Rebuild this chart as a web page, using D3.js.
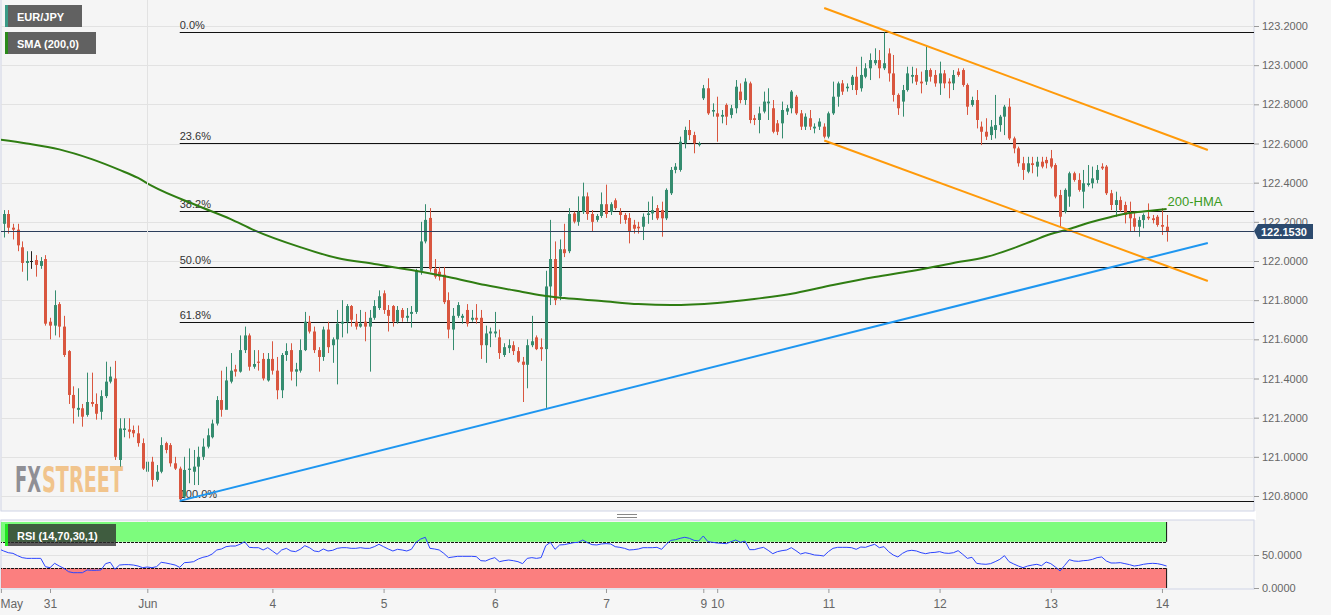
<!DOCTYPE html>
<html>
<head>
<meta charset="utf-8">
<script src="https://cdn.jsdelivr.net/npm/d3@7"></script>
<style>
  body { margin: 0; background: #f6f6f6; overflow: hidden; }
  svg { display: block; font-family: "Liberation Sans", Arial, sans-serif; }
  .axis text { fill: #666; }
  .axis line { stroke: #9a9a9a; }
</style>
</head>
<body>
<svg width="1331" height="615"></svg>
<script>
var svg = d3.select('svg');
var width = +svg.attr('width'), height = +svg.attr('height');

//Hourly EUR/JPY candles, May 30 13:00 to June 14 01:00 (one entry per bar).
var opens = [
  122.11,122.19,122.24,122.17,122.16,122.07,121.99,122.00,122.005,121.975,
  122.01,121.69,121.67,121.78,121.665,121.54,121.316,121.24,121.248,121.214,
  121.28,121.27,121.23,121.31,121.384,121.40,120.984,121.137,121.14,121.137,
  121.12,121.07,120.924,120.975,120.882,120.924,121.07,121.06,120.967,120.94,
  120.797,120.933,120.924,120.95,121.00,121.052,121.10,121.17,121.29,121.24,
  121.384,121.447,121.435,121.545,121.62,121.46,121.486,121.50,121.39,121.50,
  121.44,121.34,121.52,121.545,121.435,121.44,121.545,121.69,121.64,121.545,
  121.51,121.65,121.57,121.60,121.68,121.69,121.77,121.69,121.665,121.69,
  121.665,121.71,121.76,121.835,121.75,121.77,121.69,121.75,121.71,121.73,
  121.74,121.95,122.10,122.22,121.96,121.945,121.93,121.80,121.65,121.72,
  121.71,121.75,121.70,121.71,121.71,121.57,121.63,121.63,121.61,121.52,
  121.555,121.57,121.54,121.486,121.47,121.57,121.61,121.56,121.55,121.87,
  122.01,121.82,122.06,122.05,122.243,122.20,122.25,122.33,122.24,122.21,
  122.23,122.29,122.25,122.31,122.25,122.235,122.22,122.185,122.175,122.175,
  122.235,122.243,122.27,122.26,122.218,122.346,122.465,122.465,122.601,122.669,
  122.643,122.592,122.831,122.882,122.763,122.754,122.737,122.797,122.746,122.78,
  122.865,122.822,122.907,122.729,122.72,122.763,122.805,122.78,122.703,122.703,
  122.763,122.78,122.839,122.754,122.686,122.729,122.677,122.686,122.686,122.635,
  122.754,122.839,122.907,122.882,122.899,122.941,122.882,122.941,122.984,123.01,
  123.026,122.984,123.06,122.958,122.848,122.814,122.873,122.941,122.95,122.916,
  122.916,122.975,122.95,122.907,122.958,122.916,122.907,122.967,122.975,122.899,
  122.797,122.822,122.686,122.66,122.643,122.669,122.694,122.737,122.788,122.626,
  122.575,122.499,122.456,122.499,122.482,122.507,122.516,122.524,122.49,122.337,
  122.252,122.329,122.448,122.414,122.354,122.388,122.397,122.414,122.482,122.482,
  122.346,122.286,122.311,122.286,122.243,122.218,122.175,122.209,122.226,122.218,
  122.226,122.184,122.175];
var highs = [
  122.27,122.26,122.26,122.19,122.19,122.10,122.05,122.05,122.03,122.02,
  122.03,121.71,121.85,121.79,121.72,121.545,121.36,121.35,121.27,121.43,
  121.43,121.324,121.34,121.486,121.46,121.49,121.197,121.197,121.197,121.16,
  121.16,121.094,121.00,121.00,120.958,121.10,121.077,121.07,121.00,120.95,
  121.00,121.043,121.035,121.052,121.094,121.145,121.19,121.31,121.44,121.46,
  121.53,121.47,121.62,121.665,121.63,121.545,121.545,121.53,121.53,121.59,
  121.51,121.53,121.58,121.58,121.48,121.60,121.74,121.72,121.665,121.56,
  121.665,121.69,121.61,121.75,121.80,121.78,121.775,121.73,121.75,121.74,
  121.75,121.80,121.85,121.85,121.775,121.775,121.77,121.76,121.76,121.77,
  121.96,122.20,122.29,122.27,122.01,121.97,121.97,121.84,121.76,121.79,
  121.73,121.78,121.75,121.78,121.75,121.67,121.66,121.74,121.65,121.58,
  121.60,121.59,121.56,121.51,121.60,121.72,121.62,121.605,121.95,122.21,
  122.10,122.11,122.19,122.27,122.252,122.33,122.40,122.35,122.26,122.24,
  122.35,122.39,122.30,122.32,122.27,122.245,122.245,122.21,122.20,122.243,
  122.303,122.33,122.286,122.303,122.371,122.48,122.50,122.635,122.686,122.72,
  122.66,122.609,122.899,122.933,122.805,122.839,122.771,122.805,122.797,122.924,
  122.907,122.933,122.916,122.746,122.788,122.865,122.882,122.822,122.72,122.814,
  122.797,122.873,122.848,122.771,122.754,122.771,122.703,122.729,122.703,122.763,
  122.916,122.916,122.924,122.907,122.95,122.992,123.043,123.01,123.06,123.086,
  123.077,123.168,123.086,123.052,122.856,122.899,122.992,122.992,122.984,122.967,
  123.095,122.984,122.975,123.018,122.975,122.933,122.975,122.984,122.984,122.907,
  122.839,122.873,122.712,122.729,122.72,122.848,122.746,122.797,122.831,122.635,
  122.584,122.532,122.532,122.532,122.532,122.532,122.532,122.567,122.499,122.363,
  122.371,122.456,122.456,122.448,122.465,122.49,122.482,122.49,122.499,122.49,
  122.363,122.354,122.329,122.303,122.303,122.252,122.226,122.243,122.294,122.235,
  122.235,122.269,122.235];
var lows = [
  121.99,122.12,122.14,122.11,122.05,121.945,121.90,121.96,121.92,121.96,
  121.67,121.60,121.62,121.61,121.51,121.27,121.17,121.205,121.154,121.205,
  121.256,121.19,121.19,121.30,121.375,120.984,120.95,121.10,121.094,121.10,
  121.052,120.933,120.882,120.848,120.873,120.916,121.018,120.95,120.933,120.775,
  120.788,120.865,120.856,120.856,120.984,121.043,121.094,121.16,121.205,121.28,
  121.375,121.41,121.43,121.53,121.44,121.45,121.44,121.39,121.384,121.42,
  121.294,121.30,121.49,121.39,121.36,121.43,121.54,121.63,121.53,121.435,
  121.49,121.53,121.48,121.37,121.61,121.63,121.665,121.65,121.66,121.59,
  121.435,121.70,121.75,121.73,121.64,121.665,121.68,121.69,121.69,121.66,
  121.73,121.93,122.09,121.945,121.91,121.90,121.78,121.605,121.545,121.71,
  121.68,121.665,121.69,121.68,121.50,121.48,121.56,121.61,121.50,121.51,
  121.53,121.52,121.48,121.28,121.35,121.56,121.545,121.49,121.25,121.775,
  121.775,121.80,122.02,122.04,122.192,122.18,122.24,122.21,122.15,122.20,
  122.22,122.22,122.235,122.26,122.19,122.19,122.09,122.14,122.14,122.107,
  122.19,122.21,122.209,122.124,122.209,122.337,122.448,122.456,122.575,122.618,
  122.55,122.585,122.822,122.746,122.737,122.609,122.703,122.694,122.729,122.754,
  122.805,122.797,122.703,122.694,122.652,122.754,122.72,122.652,122.643,122.626,
  122.746,122.754,122.746,122.669,122.669,122.669,122.652,122.669,122.626,122.626,
  122.746,122.788,122.848,122.865,122.873,122.848,122.865,122.933,122.924,123.00,
  122.933,122.975,122.916,122.814,122.746,122.737,122.865,122.907,122.899,122.856,
  122.899,122.916,122.89,122.848,122.882,122.831,122.873,122.941,122.89,122.746,
  122.788,122.677,122.592,122.618,122.618,122.626,122.66,122.643,122.618,122.55,
  122.482,122.414,122.448,122.448,122.431,122.473,122.473,122.473,122.32,122.175,
  122.243,122.277,122.405,122.354,122.269,122.38,122.371,122.397,122.465,122.337,
  122.26,122.226,122.252,122.192,122.15,122.15,122.124,122.167,122.209,122.192,
  122.175,122.133,122.099];
var closes = [
  122.24,122.24,122.17,122.16,122.08,121.99,122.00,122.00,121.98,122.00,
  121.68,121.67,121.775,121.665,121.52,121.316,121.248,121.25,121.205,121.28,
  121.27,121.22,121.31,121.384,121.41,121.00,121.145,121.145,121.128,121.12,
  121.07,120.94,120.975,120.882,120.924,121.06,121.035,120.967,120.94,120.783,
  120.933,120.94,120.95,121.00,121.052,121.11,121.17,121.29,121.24,121.39,
  121.44,121.435,121.545,121.62,121.46,121.474,121.48,121.40,121.50,121.44,
  121.34,121.52,121.54,121.435,121.447,121.545,121.69,121.64,121.545,121.51,
  121.65,121.56,121.60,121.68,121.69,121.77,121.70,121.665,121.68,121.665,
  121.71,121.77,121.82,121.75,121.72,121.69,121.75,121.71,121.72,121.74,
  121.95,122.10,122.21,121.96,121.92,121.92,121.79,121.65,121.72,121.775,
  121.72,121.68,121.71,121.70,121.57,121.63,121.64,121.64,121.53,121.56,
  121.57,121.54,121.486,121.47,121.57,121.59,121.55,121.55,121.87,122.01,
  121.80,122.06,122.04,122.24,122.201,122.25,122.33,122.24,122.20,122.23,
  122.29,122.24,122.29,122.27,122.235,122.21,122.15,122.165,122.167,122.226,
  122.243,122.26,122.218,122.218,122.363,122.465,122.482,122.609,122.669,122.643,
  122.601,122.601,122.882,122.754,122.771,122.737,122.746,122.737,122.78,122.89,
  122.822,122.916,122.72,122.72,122.754,122.814,122.814,122.66,122.66,122.771,
  122.78,122.865,122.754,122.686,122.737,122.686,122.686,122.712,122.635,122.754,
  122.839,122.907,122.865,122.89,122.941,122.873,122.95,122.984,123.026,123.026,
  122.984,123.01,122.958,122.848,122.78,122.873,122.958,122.95,122.916,122.907,
  122.975,122.941,122.907,122.958,122.907,122.907,122.95,122.95,122.899,122.788,
  122.822,122.72,122.66,122.635,122.686,122.694,122.737,122.788,122.626,122.575,
  122.499,122.465,122.499,122.49,122.507,122.482,122.499,122.482,122.329,122.226,
  122.363,122.448,122.414,122.363,122.397,122.397,122.422,122.465,122.473,122.346,
  122.286,122.311,122.26,122.235,122.218,122.175,122.209,122.235,122.218,122.209,
  122.184,122.175,122.153];

//RSI (14) read per bar.
var rsi = [
  59.1,56.1,53.5,52.5,49,46,44.9,44.9,44.9,44.9,
  32.3,30.8,37.4,33.3,29.8,24.7,23.2,23.2,23.2,27.3,
  26.8,26.8,27.3,36.9,38.9,28.3,34.8,35.4,35.4,34.8,
  33.3,30.8,31.8,30.8,32.3,38.9,37.9,36.4,34.8,31.3,
  38.4,38.9,39.9,43.9,46.5,48,51.5,57.6,59.1,62.6,
  63.6,63.6,66.2,70.2,61.6,61.1,61.1,57.6,61.1,56.1,
  51,57.6,60.1,56.1,55.1,58.6,64.1,61.1,56.1,55.1,
  59.1,56.1,57.1,60.1,61.1,61.1,60.1,60.1,61.1,60.1,
  60.1,62.6,66.2,62.6,59.1,56.1,58.6,57.6,56.1,58.6,
  69.2,74.2,76.8,60.1,59.1,57.6,52.5,46,47,48,
  48,48,48,47.5,41.4,40.9,43.9,46,39.9,41.4,
  42.4,41.4,39.9,36.9,44.9,46,44.9,46,64.1,69.2,
  58.6,65.2,65.7,67.2,68.7,69.2,72.7,68.7,65.7,65.2,
  66.7,67.2,66.7,62.6,61.6,60.1,57.6,58.1,59.1,61.1,
  61.1,61.1,61.6,58.6,66.2,72.2,73.2,75.3,76.8,75.3,
  72.2,71.2,78.8,70.2,69.2,68.2,67.7,67.2,70.2,72.7,
  69.2,71.2,58.1,58.1,60.1,61.6,57.1,52,55.1,56.6,
  57.6,61.1,56.6,51.5,53.5,52,50,49.5,48.5,55.1,
  60.1,61.6,61.6,61.6,61.1,58.6,62.1,61.6,64.1,66.2,
  61.1,62.6,55.1,50,47,52.5,56.1,57.1,56.1,53.5,
  52,53.5,54,55.1,53,52.5,53.5,56.6,51,44.9,
  46.5,37.4,36.4,35.9,36.9,39.9,43.4,49,39.9,36.4,
  33.3,30.8,33.3,34.8,35.9,33.8,39.4,36.9,31.8,25.8,
  34.3,42.9,40.9,40.4,41.4,41.9,43.4,46,47,40.9,
  37.9,37.9,38.4,36.9,35.4,33.3,34.3,35.9,36.9,37.4,
  36.9,35.4,33.3];

//200-HMA, read at knots along the curve (bar index, price).
var hmaIdx = [0, 6, 13, 20, 26, 30, 33, 43, 50, 55, 65, 73, 81, 89, 97, 105, 113, 118, 122, 130,
  138, 145, 155, 163, 172, 180, 189, 197, 206, 213, 219, 223, 227, 231, 235, 240, 244, 248, 252];
var hmaVal = [122.62, 122.60, 122.57, 122.52, 122.465, 122.424, 122.383, 122.281, 122.214, 122.158,
  122.071, 122.015, 121.985, 121.954, 121.918, 121.877, 121.842, 121.821, 121.811, 121.796,
  121.780, 121.775, 121.786, 121.806, 121.837, 121.877, 121.918, 121.949, 121.990, 122.020,
  122.066, 122.102, 122.138, 122.163, 122.194, 122.225, 122.245, 122.255, 122.266];

//Trend lines as [bar index, price] end points.
var supportLine = [[39, 120.775], [260.9, 122.092]];
var channelTop = [[178.1, 123.292], [260.9, 122.567]];
var channelBottom = [[178.1, 122.615], [260.9, 121.898]];

var fibLevels = [0, 23.6, 38.2, 50, 61.8, 100];
var priceTicks = [120.8, 121.0, 121.2, 121.4, 121.6, 121.8, 122.0, 122.2, 122.4, 122.6, 122.8, 123.0, 123.2];
var rsiTicks = [0, 50];
var dayLabels = ['May', '31', 'Jun', '4', '5', '6', '7', '9', '10', '11', '12', '13', '14'];
var dayIdx = [0.4, 11, 32, 59, 83, 107, 131, 152, 155, 179, 203, 227, 251];
var lastPrice = closes[closes.length - 1];

//Layout.
var panelL = 1, panelR = 1254, mainT = 0, mainB = 511, rsiT = 520, rsiB = 589;
var green = '#358c6f', red = '#d9563f';

var xScale = d3.scaleLinear().domain([0, 252]).range([-0.96, 1166.6]);
var yScale = d3.scaleLinear().domain([120.8, 123.2]).range([496, 26]);
var rScale = d3.scaleLinear().domain([0, 100]).range([588, 522]);

var defs = svg.append('defs');
defs.append('clipPath').attr('id', 'clipMain').append('rect')
  .attr('x', panelL).attr('y', mainT).attr('width', panelR - panelL).attr('height', mainB - mainT);
defs.append('clipPath').attr('id', 'clipRsi').append('rect')
  .attr('x', panelL).attr('y', rsiT).attr('width', panelR - panelL).attr('height', rsiB - rsiT);

//Backgrounds and panels.
svg.append('rect').attr('width', width).attr('height', height).attr('fill', '#f6f6f6');
svg.append('rect').attr('x', 0).attr('y', mainB).attr('width', panelR + 2).attr('height', rsiT - mainB).attr('fill', '#fff');
svg.append('rect').attr('x', panelL).attr('y', mainT - 1).attr('width', panelR - panelL).attr('height', mainB - mainT + 1)
  .attr('fill', '#f5f5f5').attr('stroke', '#cfd4e6');
svg.append('rect').attr('x', panelL).attr('y', rsiT).attr('width', panelR - panelL).attr('height', rsiB - rsiT)
  .attr('fill', '#f5f5f5').attr('stroke', '#cfd4e6');

//Drag handle between panels.
[514.5, 517.5].forEach(function(yy) {
  svg.append('line').attr('x1', 617).attr('x2', 637).attr('y1', yy).attr('y2', yy)
    .attr('stroke', '#888').attr('stroke-width', 1);
});

var main = svg.append('g').attr('clip-path', 'url(#clipMain)');

//Grid.
main.selectAll('line.grid').data(priceTicks).join('line')
  .attr('class', 'grid')
  .attr('x1', panelL).attr('x2', panelR)
  .attr('y1', function(d) { return Math.round(yScale(d)) + 0.5; })
  .attr('y2', function(d) { return Math.round(yScale(d)) + 0.5; })
  .attr('stroke', '#e2e2e2');
svg.append('line')
  .attr('x1', Math.round(xScale(32)) + 0.5).attr('x2', Math.round(xScale(32)) + 0.5)
  .attr('y1', mainT).attr('y2', mainB).attr('stroke', '#e2e2e2');

//Watermark: two words, drawn small and stretched upward so each box keeps its true width.
var wmFont = '"DejaVu Sans Condensed", "Liberation Sans Narrow", sans-serif';
[{word: 'FX', x: 15, w: 26, fill: '#8f8f95'}, {word: 'STREET', x: 42, w: 81, fill: '#f1c48c'}]
  .forEach(function(p) {
    main.append('g').attr('transform', 'translate(' + p.x + ',492) scale(1,1.75)')
      .append('text')
      .attr('textLength', p.w).attr('lengthAdjust', 'spacingAndGlyphs')
      .style('font-family', wmFont).style('font-weight', 'bold').style('font-size', '20px')
      .attr('fill', p.fill).text(p.word);
  });

//Fibonacci retracement.
var fibHi = d3.max(highs), fibLo = d3.min(lows);
var fibX = xScale(lows.indexOf(fibLo));
function fibPrice(lv) { return fibHi - (fibHi - fibLo) * lv / 100; }
main.selectAll('line.fib').data(fibLevels).join('line')
  .attr('class', 'fib')
  .attr('x1', fibX).attr('x2', panelR)
  .attr('y1', function(d) { return Math.round(yScale(fibPrice(d))) + 0.5; })
  .attr('y2', function(d) { return Math.round(yScale(fibPrice(d))) + 0.5; })
  .attr('stroke', '#111').attr('stroke-width', 1.2);
main.selectAll('text.fib').data(fibLevels).join('text')
  .attr('class', 'fib')
  .attr('x', fibX).attr('y', function(d) { return yScale(fibPrice(d)) - 3; })
  .attr('fill', '#333').style('font-size', '11px')
  .text(function(d) { return d.toFixed(1) + '%'; });

//Candles.
var idx = d3.range(closes.length);
function candleColor(i) {
  return closes[i] > opens[i] ? green : (closes[i] < opens[i] ? red : '#222');
}
main.selectAll('line.wick').data(idx).join('line')
  .attr('class', 'wick')
  .attr('x1', function(i) { return Math.round(xScale(i)) + 0.5; })
  .attr('x2', function(i) { return Math.round(xScale(i)) + 0.5; })
  .attr('y1', function(i) { return yScale(highs[i]); })
  .attr('y2', function(i) { return yScale(lows[i]); })
  .attr('stroke', candleColor);
main.selectAll('rect.body').data(idx).join('rect')
  .attr('class', 'body')
  .attr('x', function(i) { return Math.round(xScale(i)) - 1; })
  .attr('width', 3)
  .attr('y', function(i) { return yScale(Math.max(opens[i], closes[i])); })
  .attr('height', function(i) { return Math.max(1, Math.abs(yScale(opens[i]) - yScale(closes[i]))); })
  .attr('fill', candleColor);

//200-HMA.
var hmaLine = d3.line()
  .x(function(d, i) { return xScale(hmaIdx[i]); })
  .y(function(d) { return yScale(d); })
  .curve(d3.curveMonotoneX);
main.append('path').datum(hmaVal)
  .attr('d', hmaLine).attr('fill', 'none')
  .attr('stroke', '#2f7d12').attr('stroke-width', 2);
main.append('text')
  .attr('x', xScale(252) + 1).attr('y', yScale(hmaVal[hmaVal.length - 1]) - 3)
  .attr('fill', '#3a9a1c').style('font-size', '13px')
  .text('200-HMA');

//Trend lines.
var tLine = d3.line()
  .x(function(d) { return xScale(d[0]); })
  .y(function(d) { return yScale(d[1]); });
main.append('path').datum(supportLine).attr('d', tLine)
  .attr('stroke', '#1e96f0').attr('stroke-width', 2).attr('fill', 'none');
[channelTop, channelBottom].forEach(function(seg) {
  main.append('path').datum(seg).attr('d', tLine)
    .attr('stroke', '#ff9a0a').attr('stroke-width', 2).attr('fill', 'none');
});

//Last price line.
var yLast = Math.round(yScale(lastPrice)) + 0.5;
main.append('line').attr('x1', panelL).attr('x2', panelR).attr('y1', yLast).attr('y2', yLast)
  .attr('stroke', '#2c3e5c').attr('stroke-width', 1);

//Price axis.
var yAxis = svg.append('g')
  .attr('class', 'axis')
  .attr('transform', 'translate(' + panelR + ',0)')
  .call(d3.axisRight(yScale).tickValues(priceTicks).tickFormat(d3.format('.4f')).tickSize(5).tickPadding(3));
yAxis.select('.domain').remove();
yAxis.selectAll('text').style('font-size', '11px').style('font-family', '"Liberation Sans", Arial, sans-serif');

//Last price tag.
var tag = svg.append('g').attr('transform', 'translate(0,' + yScale(lastPrice) + ')');
tag.append('path')
  .attr('d', 'M1254,0 L1258,-7 L1313,-7 L1313,8 L1258,8 Z')
  .attr('fill', '#2c4a6e');
tag.append('text').attr('x', 1261).attr('y', 4.5)
  .attr('fill', '#fff').style('font-size', '11px').style('font-weight', 'bold')
  .text(lastPrice.toFixed(4));

//RSI panel.
var rsiG = svg.append('g').attr('clip-path', 'url(#clipRsi)');
rsiG.append('line')
  .attr('x1', Math.round(xScale(32)) + 0.5).attr('x2', Math.round(xScale(32)) + 0.5)
  .attr('y1', rsiT).attr('y2', rsiB).attr('stroke', '#e2e2e2');
rsiG.append('line').attr('x1', panelL).attr('x2', panelR)
  .attr('y1', Math.round(rScale(50)) + 0.5).attr('y2', Math.round(rScale(50)) + 0.5)
  .attr('stroke', '#e2e2e2');
var bandX0 = xScale(0), bandX1 = xScale(252);
rsiG.append('rect').attr('x', bandX0).attr('width', bandX1 - bandX0)
  .attr('y', rScale(100)).attr('height', rScale(70) - rScale(100)).attr('fill', '#7dfc7d');
rsiG.append('rect').attr('x', bandX0).attr('width', bandX1 - bandX0)
  .attr('y', rScale(30)).attr('height', rScale(0) - rScale(30)).attr('fill', '#fb7f7f');
[70, 30].forEach(function(v) {
  rsiG.append('line').attr('x1', bandX0).attr('x2', bandX1)
    .attr('y1', Math.round(rScale(v)) + 0.5).attr('y2', Math.round(rScale(v)) + 0.5)
    .attr('stroke', '#111').attr('stroke-dasharray', '3,1');
});
[[100, 70], [30, 0]].forEach(function(r) {
  [bandX0 + 1.5, bandX1].forEach(function(xx) {
    rsiG.append('line').attr('x1', xx).attr('x2', xx)
      .attr('y1', rScale(r[0])).attr('y2', rScale(r[1]))
      .attr('stroke', '#111');
  });
});
var rsiLine = d3.line()
  .x(function(d, i) { return xScale(i); })
  .y(function(d) { return rScale(d); });
rsiG.append('path').datum(rsi).attr('d', rsiLine)
  .attr('fill', 'none').attr('stroke', '#2b44ff').attr('stroke-width', 1);

var rAxis = svg.append('g')
  .attr('class', 'axis')
  .attr('transform', 'translate(' + panelR + ',0)')
  .call(d3.axisRight(rScale).tickValues(rsiTicks).tickFormat(d3.format('.4f')).tickSize(5).tickPadding(3));
rAxis.select('.domain').remove();
rAxis.selectAll('text').style('font-size', '11px').style('font-family', '"Liberation Sans", Arial, sans-serif');

//Time axis.
var xAxis = svg.append('g')
  .attr('class', 'axis')
  .attr('transform', 'translate(0,' + rsiB + ')')
  .call(d3.axisBottom(xScale).tickValues(dayIdx)
    .tickFormat(function(d, i) { return dayLabels[i]; }).tickSize(4).tickPadding(6));
xAxis.select('.domain').remove();
xAxis.selectAll('text').style('font-size', '12px').style('font-family', '"Liberation Sans", Arial, sans-serif');
xAxis.selectAll('text').filter(function(d, i) { return i === 0; })
  .attr('text-anchor', 'start').attr('x', -1);

//Legend tags.
function tagBox(x0, y0, w, label, barColor, boxFill, boxOpacity) {
  var g = svg.append('g').attr('transform', 'translate(' + x0 + ',' + y0 + ')');
  g.append('rect').attr('width', w).attr('height', 22).attr('fill', boxFill).attr('fill-opacity', boxOpacity);
  g.append('rect').attr('width', 3).attr('height', 22).attr('fill', barColor);
  g.append('text').attr('x', 12).attr('y', 15.5)
    .attr('fill', '#fff').style('font-size', '11px').style('font-weight', 'bold')
    .text(label);
}
tagBox(5, 5, 77, 'EUR/JPY', '#3a9a86', '#616161', 1);
tagBox(5, 32, 91, 'SMA (200,0)', '#2a8a1a', '#616161', 1);
tagBox(5, 524, 111, 'RSI (14,70,30,1)', '#22e622', '#2e2e2e', 0.78);
</script>
</body>
</html>
